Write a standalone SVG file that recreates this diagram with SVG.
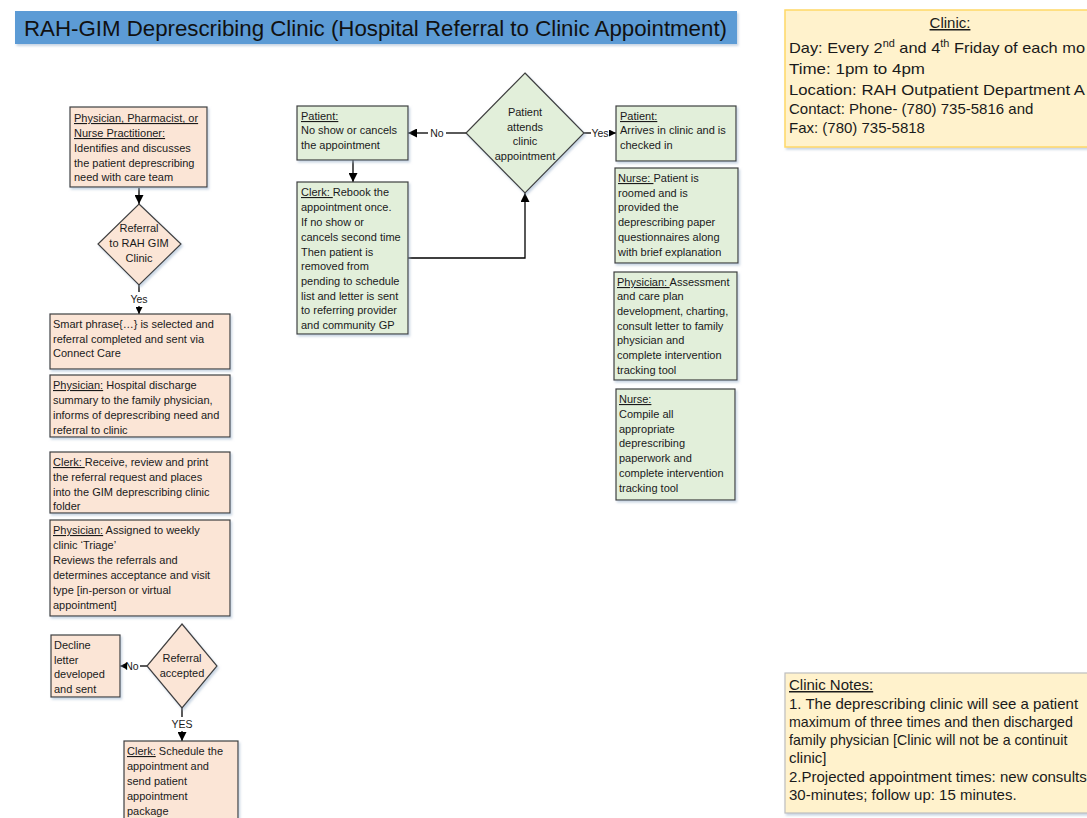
<svg xmlns="http://www.w3.org/2000/svg" width="1087" height="818" viewBox="0 0 1087 818">
<defs>
<marker id="ah" viewBox="0 0 10 10" refX="10" refY="5" markerWidth="10" markerHeight="9" markerUnits="userSpaceOnUse" orient="auto"><path d="M0,0 L10,5 L0,10 z" fill="#000"/></marker>
<marker id="ahs" viewBox="0 0 10 10" refX="10" refY="5" markerWidth="7" markerHeight="7" markerUnits="userSpaceOnUse" orient="auto"><path d="M0,0 L10,5 L0,10 z" fill="#000"/></marker>
<filter id="sh" x="-10%" y="-10%" width="130%" height="130%"><feDropShadow dx="1.5" dy="2" stdDeviation="1.2" flood-color="#9DB3CC" flood-opacity="0.55"/></filter>
</defs>
<style>
.peach{fill:#FBE5D6;stroke:#3F3F3F;stroke-width:1.2;filter:url(#sh)}
.green{fill:#E2EFDA;stroke:#3F3F3F;stroke-width:1.2;filter:url(#sh)}
.t{font-family:"Liberation Sans",Arial,sans-serif;font-size:11px;fill:#1a1a1a}
.c{text-anchor:middle}
.u{text-decoration:underline}
.ln{stroke:#000;stroke-width:1.3;fill:none}
.lb{font-family:"Liberation Sans",Arial,sans-serif;font-size:10.5px;fill:#1a1a1a;text-anchor:middle}
.big{font-family:"Liberation Sans",Arial,sans-serif;font-size:15px;fill:#1a1a1a}
.sm{font-size:14.2px}
</style>
<rect width="1087" height="818" fill="#fff"/>

<g id="title">
<rect x="15" y="11" width="722" height="33" fill="#5B9BD5" filter="url(#sh)"/>
<text x="24" y="36" font-family="'Liberation Sans',Arial,sans-serif" font-size="22" fill="#111" textLength="703" lengthAdjust="spacingAndGlyphs">RAH-GIM Deprescribing Clinic (Hospital Referral to Clinic Appointment)</text>
</g>

<g id="connectors">
<line class="ln" x1="139" y1="188" x2="139" y2="204" marker-end="url(#ah)"/>
<line class="ln" x1="139" y1="285" x2="139" y2="292"/>
<text class="lb" x="139" y="303">Yes</text>
<line class="ln" x1="139" y1="306" x2="139" y2="314" marker-end="url(#ahs)"/>
<line class="ln" x1="147" y1="666" x2="140" y2="666"/>
<text class="lb" x="132" y="670">No</text>
<line class="ln" x1="126" y1="666" x2="120" y2="666" marker-end="url(#ahs)"/>
<line class="ln" x1="182" y1="708" x2="182" y2="717"/>
<text class="lb" x="182" y="728">YES</text>
<line class="ln" x1="182" y1="731" x2="182" y2="741" marker-end="url(#ah)"/>
<line class="ln" x1="466" y1="133" x2="446" y2="133"/>
<text class="lb" x="437" y="137">No</text>
<line class="ln" x1="428" y1="133" x2="408" y2="133" marker-end="url(#ah)"/>
<line class="ln" x1="353" y1="160" x2="353" y2="182" marker-end="url(#ah)"/>
<polyline class="ln" points="408,258 525,258 525,193" marker-end="url(#ah)"/>
<line class="ln" x1="584" y1="133" x2="591" y2="133"/>
<text class="lb" x="600" y="137">Yes</text>
<line class="ln" x1="609" y1="133" x2="616" y2="133" marker-end="url(#ahs)"/>
</g>

<g id="n-identify">
<rect class="peach" x="70" y="107" width="137" height="80"/>
<text class="t" x="74" y="122"><tspan class="u">Physician, Pharmacist, or</tspan></text>
<text class="t" x="74" y="137"><tspan class="u">Nurse Practitioner:</tspan></text>
<text class="t" x="74" y="152">Identifies and discusses</text>
<text class="t" x="74" y="167">the patient deprescribing</text>
<text class="t" x="74" y="181">need with care team</text>
</g>

<g id="d-referral">
<polygon class="peach" points="139,204 181,244 139,285 98,244"/>
<text class="t c" x="139" y="232">Referral</text>
<text class="t c" x="139" y="247">to RAH GIM</text>
<text class="t c" x="139" y="262">Clinic</text>
</g>

<g id="n-smart">
<rect class="peach" x="50" y="314" width="180" height="55"/>
<text class="t" x="53" y="328">Smart phrase{…} is selected and</text>
<text class="t" x="53" y="343">referral completed and sent via</text>
<text class="t" x="53" y="357">Connect Care</text>
</g>

<g id="n-discharge">
<rect class="peach" x="50" y="375" width="180" height="62"/>
<text class="t" x="53" y="389"><tspan class="u">Physician:</tspan> Hospital discharge</text>
<text class="t" x="53" y="404">summary to the family physician,</text>
<text class="t" x="53" y="419">informs of deprescribing need and</text>
<text class="t" x="53" y="434">referral to clinic</text>
</g>

<g id="n-clerk-receive">
<rect class="peach" x="50" y="452" width="180" height="61"/>
<text class="t" x="53" y="466"><tspan class="u">Clerk: </tspan>Receive, review and print</text>
<text class="t" x="53" y="481">the referral request and places</text>
<text class="t" x="53" y="496">into the GIM deprescribing clinic</text>
<text class="t" x="53" y="510">folder</text>
</g>

<g id="n-triage">
<rect class="peach" x="50" y="520" width="180" height="96"/>
<text class="t" x="53" y="534"><tspan class="u">Physician:</tspan> Assigned to weekly</text>
<text class="t" x="53" y="549">clinic ‘Triage’</text>
<text class="t" x="53" y="564">Reviews the referrals and</text>
<text class="t" x="53" y="579">determines acceptance and visit</text>
<text class="t" x="53" y="594">type [in-person or virtual</text>
<text class="t" x="53" y="609">appointment]</text>
</g>

<g id="n-decline">
<rect class="peach" x="51" y="635" width="69" height="62"/>
<text class="t" x="54" y="649">Decline</text>
<text class="t" x="54" y="664">letter</text>
<text class="t" x="54" y="678">developed</text>
<text class="t" x="54" y="693">and sent</text>
</g>

<g id="d-accepted">
<polygon class="peach" points="182,624 217,666 182,708 147,666"/>
<text class="t c" x="182" y="662">Referral</text>
<text class="t c" x="182" y="677">accepted</text>
</g>

<g id="n-schedule">
<rect class="peach" x="124" y="741" width="114" height="82"/>
<text class="t" x="127" y="755"><tspan class="u">Clerk:</tspan> Schedule the</text>
<text class="t" x="127" y="770">appointment and</text>
<text class="t" x="127" y="785">send patient</text>
<text class="t" x="127" y="800">appointment</text>
<text class="t" x="127" y="815">package</text>
</g>

<g id="n-noshow">
<rect class="green" x="297" y="106" width="111" height="54"/>
<text class="t" x="301" y="120"><tspan class="u">Patient:</tspan></text>
<text class="t" x="301" y="134">No show or cancels</text>
<text class="t" x="301" y="149">the appointment</text>
</g>

<g id="n-rebook">
<rect class="green" x="297" y="182" width="111" height="152"/>
<text class="t" x="301" y="196"><tspan class="u">Clerk: </tspan>Rebook the</text>
<text class="t" x="301" y="211">appointment once.</text>
<text class="t" x="301" y="226">If no show or</text>
<text class="t" x="301" y="241">cancels second time</text>
<text class="t" x="301" y="256">Then patient is</text>
<text class="t" x="301" y="270">removed from</text>
<text class="t" x="301" y="285">pending to schedule</text>
<text class="t" x="301" y="300">list and letter is sent</text>
<text class="t" x="301" y="314">to referring provider</text>
<text class="t" x="301" y="329">and community GP</text>
</g>

<g id="d-attends">
<polygon class="green" points="525,73 584,133 525,193 466,133"/>
<text class="t c" x="525" y="116">Patient</text>
<text class="t c" x="525" y="131">attends</text>
<text class="t c" x="525" y="145">clinic</text>
<text class="t c" x="525" y="160">appointment</text>
</g>

<g id="n-arrives">
<rect class="green" x="616" y="106" width="120" height="55"/>
<text class="t" x="620" y="120"><tspan class="u">Patient:</tspan></text>
<text class="t" x="620" y="134">Arrives in clinic and is</text>
<text class="t" x="620" y="149">checked in</text>
</g>

<g id="n-roomed">
<rect class="green" x="615" y="168" width="123" height="95"/>
<text class="t" x="618" y="182"><tspan class="u">Nurse: </tspan>Patient is</text>
<text class="t" x="618" y="197">roomed and is</text>
<text class="t" x="618" y="211">provided the</text>
<text class="t" x="618" y="226">deprescribing paper</text>
<text class="t" x="618" y="241">questionnaires along</text>
<text class="t" x="618" y="256">with brief explanation</text>
</g>

<g id="n-assessment">
<rect class="green" x="614" y="272" width="123" height="108"/>
<text class="t" x="617" y="286"><tspan class="u">Physician: </tspan>Assessment</text>
<text class="t" x="617" y="300">and care plan</text>
<text class="t" x="617" y="315">development, charting,</text>
<text class="t" x="617" y="330">consult letter to family</text>
<text class="t" x="617" y="344">physician and</text>
<text class="t" x="617" y="359">complete intervention</text>
<text class="t" x="617" y="374">tracking tool</text>
</g>

<g id="n-compile">
<rect class="green" x="616" y="389" width="119" height="111"/>
<text class="t" x="619" y="403"><tspan class="u">Nurse:</tspan></text>
<text class="t" x="619" y="418">Compile all</text>
<text class="t" x="619" y="433">appropriate</text>
<text class="t" x="619" y="447">deprescribing</text>
<text class="t" x="619" y="462">paperwork and</text>
<text class="t" x="619" y="477">complete intervention</text>
<text class="t" x="619" y="492">tracking tool</text>
</g>

<g id="clinic-info">
<rect x="785" y="10" width="303" height="137" fill="#FFF2CC" stroke="#FFD966" stroke-width="1.5" filter="url(#sh)"/>
<text class="big c" x="950" y="28"><tspan class="u">Clinic:</tspan></text>
<text class="big" x="789" y="53" textLength="296" lengthAdjust="spacingAndGlyphs">Day: Every 2<tspan font-size="10" dy="-6">nd</tspan><tspan dy="6"> and 4</tspan><tspan font-size="10" dy="-6">th</tspan><tspan dy="6"> Friday of each mo</tspan></text>
<text class="big" x="789" y="74" textLength="136" lengthAdjust="spacingAndGlyphs">Time: 1pm to 4pm</text>
<text class="big" x="789" y="95" textLength="296" lengthAdjust="spacingAndGlyphs">Location: RAH Outpatient Department A</text>
<text class="big" x="789" y="114">Contact: Phone- (780) 735-5816 and</text>
<text class="big" x="789" y="133">Fax: (780) 735-5818</text>
</g>

<g id="clinic-notes">
<rect x="785" y="673" width="303" height="140" fill="#FFF2CC" stroke="#BFBFBF" stroke-width="1.2" filter="url(#sh)"/>
<text class="big" x="789" y="690"><tspan class="u">Clinic Notes:</tspan></text>
<text class="big" x="789" y="709">1. The deprescribing clinic will see a patient</text>
<text class="big sm" x="789" y="727">maximum of three times and then discharged</text>
<text class="big sm" x="789" y="745">family physician [Clinic will not be a continuit</text>
<text class="big" x="789" y="763">clinic]</text>
<text class="big" x="789" y="782">2.Projected appointment times: new consults</text>
<text class="big" x="789" y="800">30-minutes; follow up: 15 minutes.</text>
</g>
</svg>
